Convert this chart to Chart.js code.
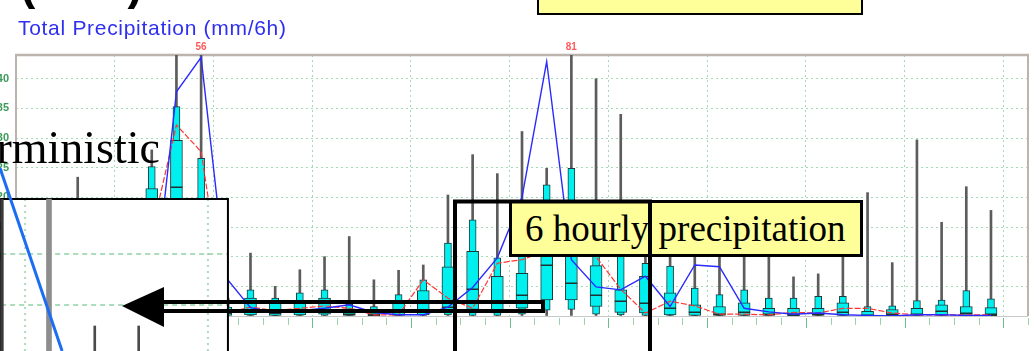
<!DOCTYPE html>
<html><head><meta charset="utf-8">
<script src="https://cdn.jsdelivr.net/npm/chart.js@4.4.1/dist/chart.umd.min.js"></script>
<style>
html,body{margin:0;padding:0;background:#fff;width:1034px;height:351px;overflow:hidden;}
body{position:relative;}
#main{position:absolute;left:-10px;top:0;}
#inset{position:absolute;left:0;top:160px;}
.t{position:absolute;white-space:nowrap;}
#title{left:18px;top:17px;font:21px/21px "Liberation Sans",Arial,sans-serif;letter-spacing:0.7px;color:#2f2ff0;}
#big{left:20px;top:-40px;font:bold 46px/46px "Liberation Sans",Arial,sans-serif;color:#000;}
#yb1{position:absolute;left:537px;top:-6px;width:326px;height:20.5px;box-sizing:border-box;border:2.5px solid #000;background:#ffff99;}
#yb2{position:absolute;left:509px;top:200px;width:354px;height:57px;box-sizing:border-box;border:3px solid #000;background:#ffff99;}
#lab2{left:525px;top:210px;font:37px/37px "Liberation Serif","Times New Roman",serif;color:#000;}
#det{right:874px;top:125px;font:46px/46px "Liberation Serif","Times New Roman",serif;color:#000;}
#ann{position:absolute;left:0;top:0;}
</style></head><body>
<canvas id="main" width="1044" height="351"></canvas>
<canvas id="inset" width="230" height="191"></canvas>
<div class="t" id="title">Total Precipitation (mm/6h)</div>
<div class="t" id="big">(00%)</div>
<div id="yb1"></div>
<div id="yb2"></div>
<div class="t" id="lab2">6 hourly precipitation</div>
<div class="t" id="det">Deterministic</div>
<svg id="ann" width="1034" height="351">
  <polygon points="122,306 164,287 164,327" fill="#000"/>
  <rect x="162" y="302" width="381" height="9" fill="none" stroke="#000" stroke-width="4"/>
  <rect x="455" y="201.5" width="195" height="200" fill="none" stroke="#000" stroke-width="4"/>
</svg>
<script>
// ---- forecast steps (hours, end of each 6 h accumulation) ----
const stepHours = [6,12,18,24,30,36,42,48,54,60,66,72,78,84,90,96,102,108,114,120,
                   126,132,138,144,150,156,162,168,174,180,186,192,198,204,210,216,222,228,234,240];
// ---- ensemble distribution (mm/6h) ----
const pMin = [0,0,0,0,0,0,0,0,0,0,0,0,0,0,0,0,0,0,0,0,0,0,0,0,0,0,0,0,0,0,0,0,0,0,0,0,0,0,0,0];
const p10  = [0,0,0,0,0,2,4,0.5,0,0,0,0,0,0,0,0,0,0.2,0,0.1,0.3,1.0,1.1,0.3,0.2,0.1,0,0,0,0,0,0,0,0,0,0,0,0,0,0];
const p25  = [0,0.05,0.4,0.1,0.2,5,10,2,0.1,0.2,0.1,0.2,0.3,0.1,0.05,0.1,0.2,0.8,1.1,0.5,1.3,2.7,2.7,1.6,0.6,0.5,0.2,0.1,0.1,0.1,0.1,0.05,0.1,0.1,0.05,0.05,0.1,0.1,0.1,0.05];
const p50  = [0.1,0.3,1.5,0.5,1,12,21.8,7,0.5,0.8,0.5,0.8,1.0,0.4,0.3,0.6,1.0,1.5,4.6,2.5,3.6,8.6,5.6,3.5,2.5,2.2,1.3,0.6,0.4,0.6,0.4,0.3,0.4,0.7,0.2,0.3,0.4,0.8,0.5,0.4];
const p75  = [0.5,1.2,4,1.5,2.5,21.5,29.6,15,1.5,3.0,2.2,2.5,3.0,1.2,1.0,2.2,4.3,8.3,10.9,6.7,7.2,18,15,8.5,4.4,6.7,3.9,1.9,1.6,2.2,1.3,1.3,1.3,2.2,0.8,1.1,1.3,1.9,1.6,1.4];
const p90  = [1,2.5,8,3,5,25.2,35.3,26.6,3,4.4,3.0,3.9,4.4,2.0,1.6,3.6,6.1,12.3,16.2,9.8,13,22.1,24.9,12,11,8.9,8.4,4.7,3.6,4.4,3.0,3.0,3.3,3.3,1.6,1.7,2.6,2.7,4.3,2.9];
const pMax = [3,8,23.4,10,15,28,44,56,12,10.6,5.0,7.8,10.0,13.4,6.1,7.7,8.6,20.4,27.2,24.0,31.1,24.9,81,40.0,34.0,14,13,16,12,15,17,6.6,7.1,14,20.8,9.0,29.7,15.8,21.8,17.8];
// ---- single forecasts (mm/6h) ----
const control = [0.5,1,3,2,3,14.2,32.2,27.7,0.5,1.5,0.9,1.3,1.7,1.3,0.2,0.2,6.1,3.0,1.3,8.9,9.5,11,10.5,10,4.5,0.5,2.5,1.7,0.3,0.3,0.2,0.6,0.5,1.3,1.3,0.5,0.2,0.2,0.2,0.2];
const hres    = [0,0,1,0.5,0.5,0,37.8,43.6,6.5,1.4,0.6,0.9,1.3,1.9,0.6,0.2,0.2,1.5,4.8,9.8,20,42.9,9.5,4.9,4.4,6.7,1.6,8.6,8.3,1.3,0.7,0.3,0.5,0.2,0.1,0,0.2,0.2,0.1,0.1];
// ---- value axis ----
const yTicks = [0,5,10,15,20,25,30,35,40];
const yTop = 44;
// ---- inset (deterministic panel fragment) ----
const insetDiag = [{x:0,y:18.3},{x:2.7,y:0}];
const insetWide = [{x:2.13,y:[0,15.2]}];
const insetThin = [{x:4.12,y:[0,2.5]},{x:6.03,y:[0,2.5]}];

const X = stepHours.map(h => h/6 - 0.5);
const pts = arr => arr.map((v,i)=>({x:X[i], y:v}));
const rng = (lo,hi) => lo.map((v,i)=>({x:X[i], y:[v,hi[i]]}));

const GRID = 'rgba(135,205,160,0.75)';
const CYAN = '#00f0f0';

const medianPlugin = {
  id:'medians',
  afterDatasetDraw(chart, args){
    if (args.meta.label !== '25-75%') return;
    const {ctx, scales:{x,y}, chartArea:a} = chart;
    ctx.save(); ctx.beginPath(); ctx.rect(a.left,a.top,a.width,a.height); ctx.clip();
    ctx.strokeStyle='#1e3232'; ctx.lineWidth=1.5;
    p50.forEach((v,i)=>{ const px=x.getPixelForValue(X[i]); const py=Math.round(y.getPixelForValue(v))+0.25;
      ctx.beginPath(); ctx.moveTo(px-6,py); ctx.lineTo(px+6,py); ctx.stroke(); });
    ctx.restore();
  }
};
const framePlugin = {
  id:'frame',
  beforeDatasetsDraw(chart){
    const {ctx, chartArea:a} = chart;
    ctx.save();
    ctx.strokeStyle='#c8c8c8'; ctx.lineWidth=1;
    ctx.beginPath(); ctx.moveTo(a.left,a.bottom+0.5); ctx.lineTo(a.right,a.bottom+0.5); ctx.stroke();
    ctx.strokeStyle='#bcb4ac'; ctx.lineWidth=2.5;
    ctx.beginPath(); ctx.moveTo(a.left-1,a.top); ctx.lineTo(a.right+1,a.top); ctx.stroke();
    ctx.lineWidth=2;
    ctx.beginPath(); ctx.moveTo(a.left,a.top); ctx.lineTo(a.left,a.bottom); ctx.stroke();
    ctx.beginPath(); ctx.moveTo(a.right,a.top); ctx.lineTo(a.right,a.bottom); ctx.stroke();
    ctx.restore();
  },
  afterDraw(chart){
    const {ctx, chartArea:a, scales:{x}} = chart;
    ctx.save();
    for (let k=0;k<=41;k++){
      const px = Math.round(x.getPixelForValue(k))+0.5;
      const major = k%4===0;
      ctx.strokeStyle = major ? '#6cbf86' : '#9ad2aa'; ctx.lineWidth=1;
      ctx.beginPath(); ctx.moveTo(px,a.bottom+2); ctx.lineTo(px,a.bottom+(major?12:9)); ctx.stroke();
    }
    // values beyond the axis top
    ctx.fillStyle='#ff5a5a'; ctx.font='bold 10px "Liberation Sans",Arial,sans-serif'; ctx.textAlign='center'; ctx.textBaseline='alphabetic';
    pMax.forEach((v,i)=>{ if (v>yTop && v>=50) ctx.fillText(String(Math.round(v)), x.getPixelForValue(X[i]), a.top-5); });
    ctx.restore();
  }
};

new Chart(document.getElementById('main'), {
  type:'bar',
  data:{datasets:[
    {type:'line', label:'Deterministic', data:pts(hres), borderColor:'#2a2aff', borderWidth:1.4, pointRadius:0, tension:0, order:0},
    {type:'line', label:'Control', data:pts(control), borderColor:'#ff3434', borderWidth:1.2, borderDash:[6,2], pointRadius:0, tension:0, order:1},
    {label:'25-75%', data:rng(p25,p75), backgroundColor:CYAN, borderColor:'#1e3a3a', borderWidth:1, borderSkipped:false, barThickness:12, grouped:false, order:2},
    {label:'10-90%', data:rng(p10,p90), backgroundColor:CYAN, borderColor:'#1e3a3a', borderWidth:1, borderSkipped:false, barThickness:7, grouped:false, order:3},
    {label:'min-max', data:rng(pMin,pMax), backgroundColor:'#5c5c5c', borderWidth:0, barThickness:2, grouped:false, order:4}
  ]},
  options:{
    responsive:false, animation:false, devicePixelRatio:1, events:[],
    layout:{padding:{top:55,right:6,left:0,bottom:0}},
    scales:{
      x:{type:'linear', min:0, max:41, offset:false,
         ticks:{display:false, stepSize:1, autoSkip:false},
         grid:{offset:false, drawTicks:false, lineWidth:1, color:c => (c.tick && c.tick.value%4===0 && c.tick.value>0) ? GRID : 'rgba(0,0,0,0)'},
         border:{display:false, dash:[2,3]},
         afterBuildTicks:s=>{ s.ticks = Array.from({length:42},(_,k)=>({value:k})); },
         afterFit:s=>{ s.height = 35; }},
      y:{min:0, max:yTop,
         ticks:{padding:7, color:'#3b9a5a', font:{family:'"Liberation Sans",Arial,sans-serif', size:11, weight:'bold'}},
         grid:{drawTicks:false, lineWidth:1, color:c => (c.tick && c.tick.value>0) ? GRID : 'rgba(0,0,0,0)'},
         border:{display:false, dash:[2,3]},
         afterBuildTicks:s=>{ s.ticks = yTicks.map(v=>({value:v})); },
         afterFit:s=>{ s.width = 26; }}
    },
    plugins:{legend:{display:false}, tooltip:{enabled:false}, title:{display:false}}
  },
  plugins:[framePlugin, medianPlugin]
});

const insetBoxPlugin = {
  id:'insetBox',
  beforeDatasetsDraw(chart){
    const {ctx, scales:{x,y}} = chart;
    const L = x.getPixelForValue(0.05), R = x.getPixelForValue(9.91), T = y.getPixelForValue(15.2), B = y.getPixelForValue(0)+2;
    ctx.save();
    ctx.fillStyle='#fff'; ctx.fillRect(L,T,R-L,B-T);
    ctx.strokeStyle='rgba(135,205,160,0.7)'; ctx.lineWidth=2;
    ctx.setLineDash([5,4]);
    [9.7,4.6].forEach(v=>{ const py=y.getPixelForValue(v); ctx.beginPath(); ctx.moveTo(L,py); ctx.lineTo(R,py); ctx.stroke(); });
    ctx.setLineDash([2,4]); ctx.lineWidth=2;
    [1.09,9.04].forEach(v=>{ const px=x.getPixelForValue(v); ctx.beginPath(); ctx.moveTo(px,T); ctx.lineTo(px,B); ctx.stroke(); });
    ctx.setLineDash([]);
    ctx.strokeStyle='#000'; ctx.lineWidth=2;
    ctx.beginPath(); ctx.moveTo(L,B); ctx.lineTo(L,T); ctx.lineTo(R,T); ctx.lineTo(R,B); ctx.stroke();
    ctx.strokeStyle='#3a3a3a'; ctx.lineWidth=3;
    ctx.beginPath(); ctx.moveTo(L+1,T); ctx.lineTo(L+1,B); ctx.stroke();
    ctx.restore();
  }
};
new Chart(document.getElementById('inset'), {
  type:'bar',
  data:{datasets:[
    {type:'line', data:insetDiag, borderColor:'#1d6df2', borderWidth:3, pointRadius:0, order:0},
    {data:insetWide, backgroundColor:'#8d8d8d', barThickness:5, grouped:false, order:1},
    {data:insetThin, backgroundColor:'#4a4a4a', barThickness:2, grouped:false, order:1}
  ]},
  options:{
    responsive:false, animation:false, devicePixelRatio:1, events:[],
    layout:{padding:0},
    scales:{x:{type:'linear', min:0, max:10, display:false, offset:false}, y:{min:0, max:19.1, display:false}},
    plugins:{legend:{display:false}, tooltip:{enabled:false}}
  },
  plugins:[insetBoxPlugin]
});
</script>
</body></html>
